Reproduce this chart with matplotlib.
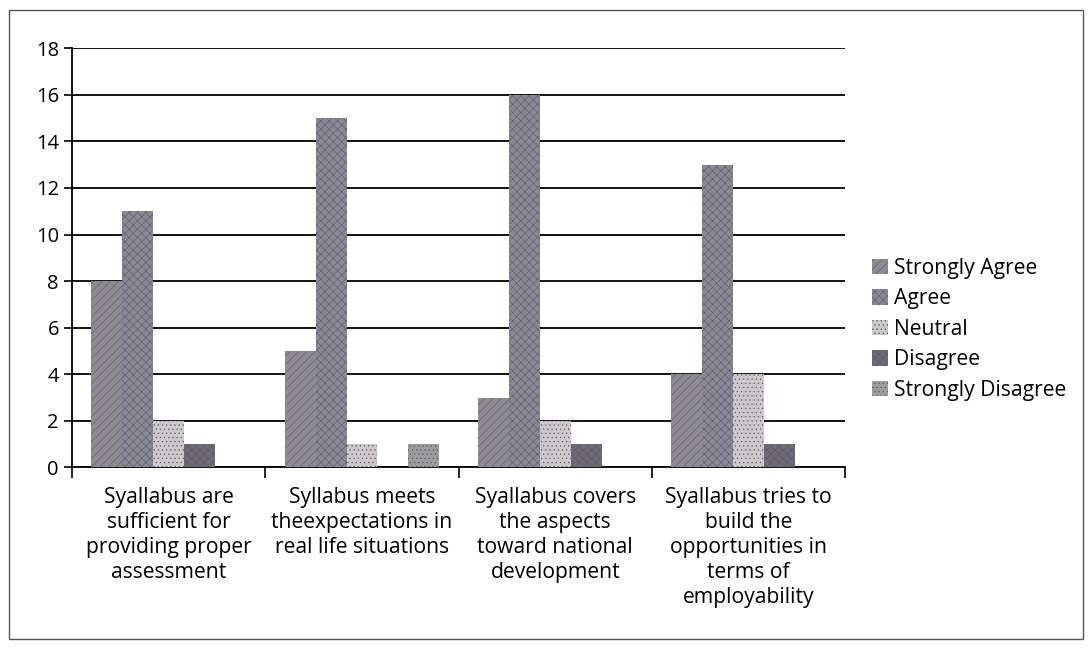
import matplotlib
matplotlib.use("Agg")
import matplotlib.pyplot as plt
import numpy as np
from matplotlib.patches import Rectangle

categories = ["Syallabus are\nsufficient for\nproviding proper\nassessment",
              "Syllabus meets\ntheexpectations in\nreal life situations",
              "Syallabus covers\nthe aspects\ntoward national\ndevelopment",
              "Syallabus tries to\nbuild the\nopportunities in\nterms of\nemployability"]
series = ["Strongly Agree", "Agree", "Neutral", "Disagree", "Strongly Disagree"]
strongly_agree = [8, 5, 3, 4]
agree = [11, 15, 16, 13]
neutral = [2, 1, 2, 4]
disagree = [1, 0, 1, 1]
strongly_disagree = [0, 1, 0, 0]
values = [strongly_agree, agree, neutral, disagree, strongly_disagree]
yticks = [0, 2, 4, 6, 8, 10, 12, 14, 16, 18]

colors = ["#8e8b94", "#8a8896", "#cdc8cc", "#6f6b79", "#9c9c9e"]
hatches = ["////", "xxxx", "....", "xxxx", "...."]

plt.rcParams['font.family'] = ['Open Sans', 'DejaVu Sans']
plt.rcParams['hatch.linewidth'] = 0.4
fig = plt.figure(figsize=(10.92, 6.52), dpi=100)
ax = fig.add_axes([0.066, 0.283, 0.708, 0.643])

w = 0.16
x = np.arange(len(categories))
for i, (s, v) in enumerate(zip(series, values)):
    ax.bar(x - 0.4 + w * (i + 0.5), v, width=w, color=colors[i], label=s,
           hatch=hatches[i], edgecolor="#5a5860", linewidth=0, zorder=3)

ax.set_ylim(0, 18)
ax.set_xlim(-0.5, len(categories) - 0.5)
ax.set_yticks(yticks)
ax.yaxis.grid(True, color="black", linewidth=1.3, zorder=0)
ax.set_axisbelow(True)
for sp in ["top", "right"]:
    ax.spines[sp].set_visible(False)
ax.spines["left"].set_linewidth(1.3)
ax.spines["bottom"].set_linewidth(1.3)
ax.tick_params(axis="y", direction="out", length=6, width=1.2, labelsize=14.5)
ax.set_xticks(np.arange(len(categories) + 1) - 0.5, minor=True)
ax.set_xticks(x)
ax.set_xticklabels(categories, fontsize=15.2, linespacing=1.25)
ax.tick_params(axis="x", which="major", length=0, pad=14)
ax.tick_params(axis="x", which="minor", length=8, width=1.2, direction="out")

leg = ax.legend(loc="center left", bbox_to_anchor=(1.01, 0.33), frameon=False,
                fontsize=15.2, handlelength=0.75, handleheight=0.75,
                handletextpad=0.3, labelspacing=0.45)

fig.patches.append(Rectangle((0.008, 0.02), 0.984, 0.965, transform=fig.transFigure,
                             fill=False, edgecolor="#555555", linewidth=1.0))
fig.savefig("out.png", dpi=100)
